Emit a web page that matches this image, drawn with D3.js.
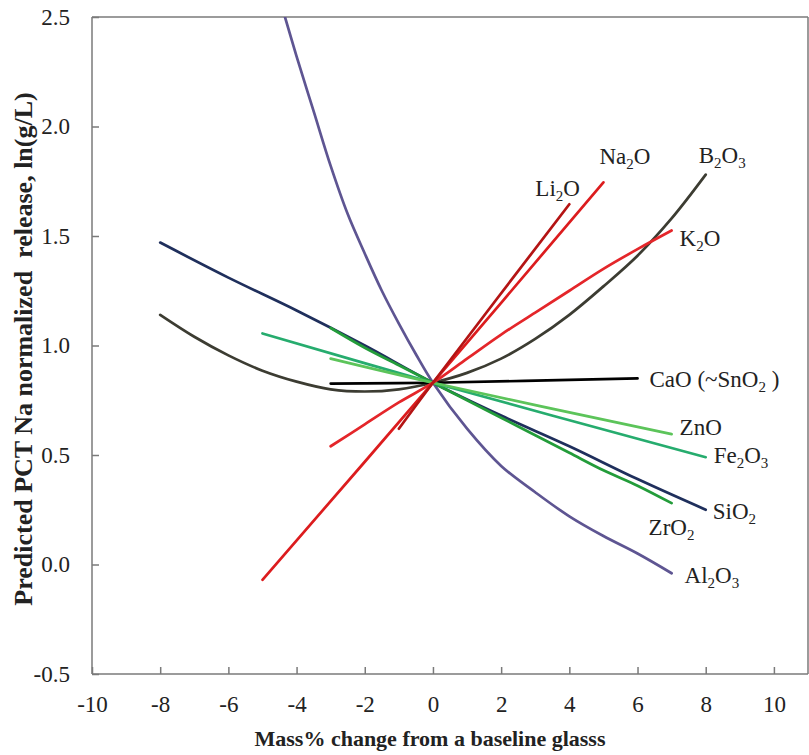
<!DOCTYPE html>
<html>
<head>
<meta charset="utf-8">
<script src="https://cdn.jsdelivr.net/npm/d3@7"></script>
<style>
  html, body { margin: 0; padding: 0; background: #fff; }
  svg { display: block; }
  text { font-family: "Liberation Serif", "Times New Roman", serif; fill: #222; }
</style>
</head>
<body>
<svg id="chart" width="809" height="755" font-family="Liberation Serif"></svg>
<script>
// ---- Axis ticks ----
const xTicks = [-10, -8, -6, -4, -2, 0, 2, 4, 6, 8, 10];
const yTicks = [-0.5, 0.0, 0.5, 1.0, 1.5, 2.0, 2.5];

// ---- Series (x: mass% change, y: predicted ln(g/L)) ----
const xAl2O3 = [-4.34, -4, -3.5, -3, -2.5, -2, -1.5, -1, -0.5, 0, 1, 2, 3, 4, 5, 6, 7];
const yAl2O3 = [2.5, 2.32, 2.07, 1.82, 1.60, 1.42, 1.25, 1.10, 0.96, 0.83, 0.62, 0.45, 0.33, 0.22, 0.13, 0.05, -0.04];

const xSiO2 = [-8, -6, -4, -2, 0, 2, 4, 6, 8];
const ySiO2 = [1.47, 1.31, 1.16, 1.00, 0.83, 0.68, 0.54, 0.39, 0.25];

const xB2O3 = [-8, -7, -6, -5, -4, -3, -2, -1, 0, 1, 2, 3, 4, 5, 6, 7, 8];
const yB2O3 = [1.14, 1.04, 0.955, 0.885, 0.835, 0.80, 0.79, 0.80, 0.83, 0.875, 0.94, 1.03, 1.14, 1.27, 1.41, 1.58, 1.78];

const xCaO = [-3, 0, 6];
const yCaO = [0.826, 0.83, 0.85];

const xZrO2 = [-3, -2, -1, 0, 1, 2, 3, 4, 5, 6, 7];
const yZrO2 = [1.08, 0.99, 0.91, 0.83, 0.75, 0.67, 0.59, 0.51, 0.43, 0.36, 0.28];

const xFe2O3 = [-5, 0, 8];
const yFe2O3 = [1.055, 0.83, 0.49];

const xZnO = [-3, 0, 7];
const yZnO = [0.94, 0.83, 0.595];

const xK2O = [-3, -2, -1, 0, 1, 2, 3, 4, 5, 6, 7];
const yK2O = [0.54, 0.64, 0.74, 0.83, 0.94, 1.05, 1.15, 1.25, 1.35, 1.44, 1.525];

const xNa2O = [-5, 0, 5];
const yNa2O = [-0.07, 0.83, 1.745];

const xLi2O = [-1, 0, 4];
const yLi2O = [0.62, 0.83, 1.645];

// names: alternating normal / subscript parts
const series = [
  { name: ["Al", "2", "O", "3"], xs: xAl2O3, ys: yAl2O3, color: "#5e5592", dx: 13, dy: 10 },
  { name: ["SiO", "2"], xs: xSiO2, ys: ySiO2, color: "#1f2f5c", dx: 7, dy: 9 },
  { name: ["B", "2", "O", "3"], xs: xB2O3, ys: yB2O3, color: "#3c3c32", dx: -7, dy: -12 },
  { name: ["CaO (~SnO", "2", " )"], xs: xCaO, ys: yCaO, color: "#000000", dx: 12, dy: 9 },
  { name: ["ZrO", "2"], xs: xZrO2, ys: yZrO2, color: "#239c3a", dx: -23, dy: 32 },
  { name: ["Fe", "2", "O", "3"], xs: xFe2O3, ys: yFe2O3, color: "#26ac6e", dx: 8, dy: 6 },
  { name: ["ZnO"], xs: xZnO, ys: yZnO, color: "#5cc45a", dx: 8, dy: 1 },
  { name: ["K", "2", "O"], xs: xK2O, ys: yK2O, color: "#e4262a", dx: 8, dy: 15 },
  { name: ["Na", "2", "O"], xs: xNa2O, ys: yNa2O, color: "#dc1c1e", dx: -4, dy: -18 },
  { name: ["Li", "2", "O"], xs: xLi2O, ys: yLi2O, color: "#b41414", dx: -34, dy: -8 }
];

const svg = d3.select("#chart");
const pL = 92, pR = 808, pT = 17, pB = 674;

const x = d3.scaleLinear().domain([-10, 11]).range([pL, pR]);
const y = d3.scaleLinear().domain([-0.5, 2.5]).range([pB, pT]);

const axisColor = "#7a7a7a";
const serif = "Liberation Serif";

// frame top & right
svg.append("line").attr("x1", pL).attr("x2", pR).attr("y1", pT).attr("y2", pT)
  .attr("stroke", axisColor).attr("stroke-width", 1.5);
svg.append("line").attr("x1", pR).attr("x2", pR).attr("y1", pT).attr("y2", pB)
  .attr("stroke", axisColor).attr("stroke-width", 1.5);

// x axis
const xAxis = svg.append("g").attr("transform", `translate(0,${pB})`)
  .call(d3.axisBottom(x).tickValues(xTicks).tickSizeInner(-7).tickSizeOuter(0)
    .tickFormat(d => String(d)))
  .attr("font-family", serif).attr("font-size", 23);
xAxis.select(".domain").attr("stroke", axisColor).attr("stroke-width", 1.5)
  .attr("d", `M${pL},0H${pR}`);
xAxis.selectAll(".tick line").attr("stroke", axisColor).attr("stroke-width", 1.5);
xAxis.selectAll(".tick text").style("font-family", serif).style("font-size", "23px")
  .attr("fill", "#222").attr("dy", "0.71em").attr("y", 22);

// y axis
const yAxis = svg.append("g").attr("transform", `translate(${pL},0)`)
  .call(d3.axisLeft(y).tickValues(yTicks).tickSizeInner(-7).tickSizeOuter(0)
    .tickFormat(d => (d < 0 ? "-" : "") + Math.abs(d).toFixed(1)))
  .attr("font-family", serif).attr("font-size", 23);
yAxis.select(".domain").attr("stroke", axisColor).attr("stroke-width", 1.5)
  .attr("d", `M0,${pT}V${pB}`);
yAxis.selectAll(".tick line").attr("stroke", axisColor).attr("stroke-width", 1.5);
yAxis.selectAll(".tick text").style("font-family", serif).style("font-size", "23px")
  .attr("fill", "#222").attr("x", -22);

// axis titles
svg.append("text").attr("x", 430).attr("y", 746).attr("text-anchor", "middle")
  .style("font-size", "22px").attr("font-weight", "bold")
  .text("Mass% change from a baseline glasss");
svg.append("text").attr("transform", "translate(32,349) rotate(-90)")
  .attr("text-anchor", "middle").style("font-size", "26px").attr("font-weight", "bold")
  .style("white-space", "pre")
  .text("Predicted PCT Na normalized  release, ln(g/L)");

// lines
svg.append("clipPath").attr("id", "clip").append("rect")
  .attr("x", pL).attr("y", pT).attr("width", pR - pL).attr("height", pB - pT);

const line = d3.line().x(d => x(d[0])).y(d => y(d[1])).curve(d3.curveCatmullRom.alpha(0.5));

const g = svg.append("g").attr("clip-path", "url(#clip)");
series.forEach(s => {
  const pts = s.xs.map((v, i) => [v, s.ys[i]]);
  g.append("path").datum(pts).attr("d", line)
    .attr("fill", "none").attr("stroke", s.color).attr("stroke-width", 2.7)
    .attr("stroke-linecap", "round");
});

// labels
series.forEach(s => {
  const n = s.xs.length - 1;
  const t = svg.append("text")
    .attr("x", x(s.xs[n]) + s.dx).attr("y", y(s.ys[n]) + s.dy)
    .style("font-size", "23px").style("white-space", "pre");
  s.name.forEach((part, i) => {
    const sub = i % 2 === 1;
    t.append("tspan").text(part)
      .style("font-size", sub ? "15px" : "23px")
      .attr("dy", i === 0 ? 0 : (sub ? 5 : -5));
  });
});
</script>
</body>
</html>
